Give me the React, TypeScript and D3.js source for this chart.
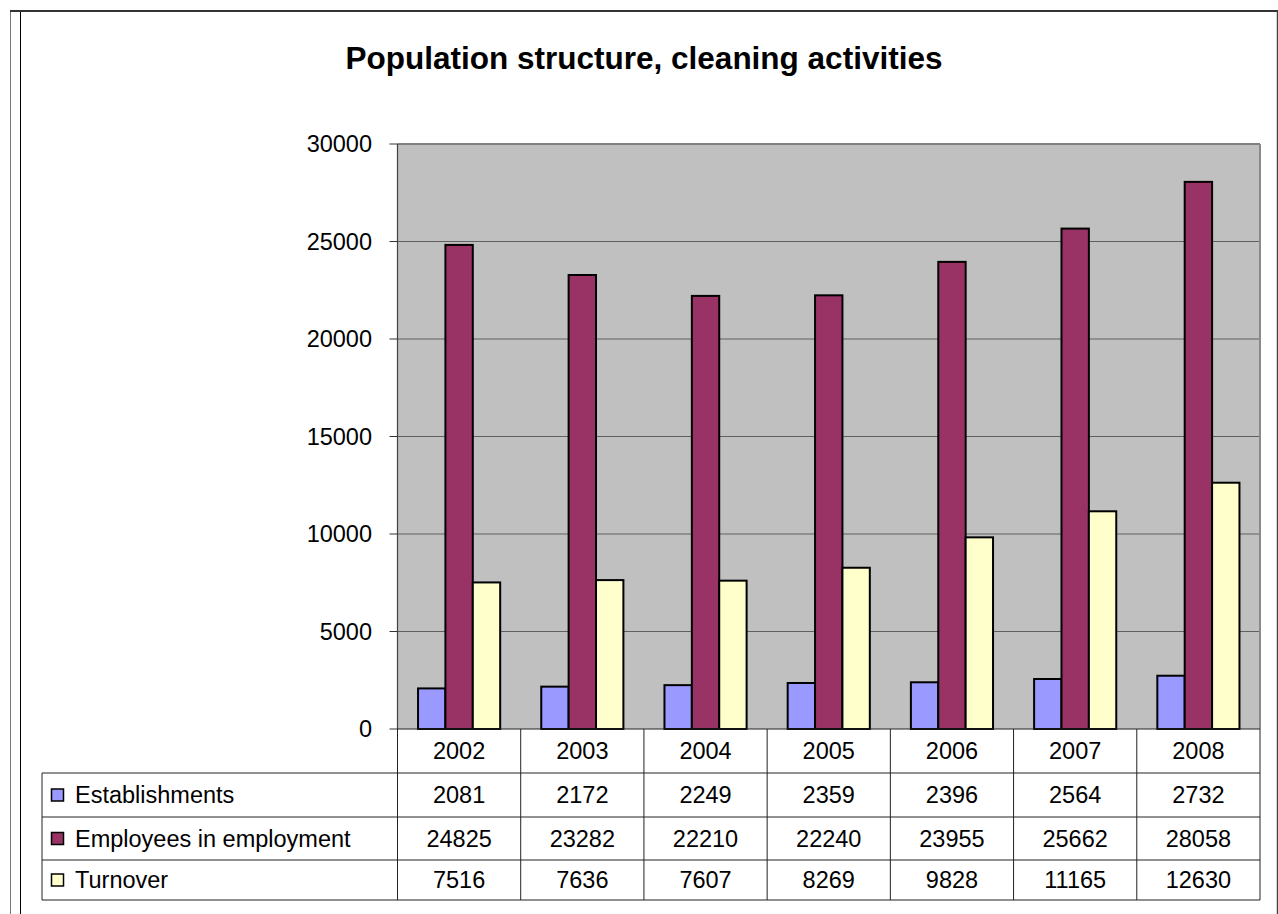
import React from "react";
import * as d3 from "d3";

const years = ["2002", "2003", "2004", "2005", "2006", "2007", "2008"];
const establishments = [2081, 2172, 2249, 2359, 2396, 2564, 2732];
const employees = [24825, 23282, 22210, 22240, 23955, 25662, 28058];
const turnover = [7516, 7636, 7607, 8269, 9828, 11165, 12630];
const seriesNames = ["Establishments", "Employees in employment", "Turnover"];
const seriesColors = ["#9999FF", "#993366", "#FFFFCC"];
const yTicks = [0, 5000, 10000, 15000, 20000, 25000, 30000];
const title = "Population structure, cleaning activities";

export default function App() {
  const W = 1278, H = 914;
  const plotL = 397.5, plotR = 1260, plotT = 144, plotB = 729;
  const tableL = 42;
  const rowLines = [729, 773, 817, 860, 900];
  const font = "Arial, 'Liberation Sans', sans-serif";
  const fs = 23.5;

  const series = [establishments, employees, turnover];
  const x = d3.scaleBand<string>().domain(years).range([plotL, plotR]).padding(0);
  const y = d3.scaleLinear().domain([0, 30000]).range([plotB, plotT]);
  const bw = x.bandwidth();
  const barW = bw / 4.5;
  const x1 = d3.scaleBand<number>().domain([0, 1, 2]).range([0.75 * barW, 0.75 * barW + 3 * barW]);

  return (
    <svg width={W} height={H} style={{ position: "fixed", left: 0, top: 0, background: "#fff" }} fontFamily={font}>
      <rect x={0} y={0} width={W} height={H} fill="#fff" />
      {/* outer frame */}
      <line x1={10.5} y1={11} x2={10.5} y2={H} stroke="#777" strokeWidth={1} />
      <line x1={20.5} y1={11} x2={20.5} y2={H} stroke="#000" strokeWidth={1} />
      <line x1={10} y1={11} x2={W} y2={11} stroke="#333" strokeWidth={2} />
      <line x1={1277.5} y1={11} x2={1277.5} y2={H} stroke="#444" strokeWidth={1.5} />

      <text x={644} y={69} textAnchor="middle" fontSize={31.5} fontWeight="bold">{title}</text>

      {/* plot area */}
      <rect x={plotL} y={plotT} width={plotR - plotL} height={plotB - plotT} fill="#C0C0C0" />
      {yTicks.filter(t => t > 0).map(t => (
        <line key={"g" + t} x1={plotL} x2={plotR} y1={y(t)} y2={y(t)} stroke={t === 30000 ? "#808080" : "#606060"} strokeWidth={t === 30000 ? 2 : 1} />
      ))}
      <line x1={plotR} x2={plotR} y1={plotT} y2={plotB} stroke="#8a8a8a" strokeWidth={2} />
      <line x1={plotL} x2={plotL} y1={plotT} y2={plotB} stroke="#404040" strokeWidth={1.2} />
      {yTicks.map(t => (
        <g key={"t" + t}>
          <line x1={plotL - 8} x2={plotL} y1={y(t)} y2={y(t)} stroke="#333" strokeWidth={1} />
          <text x={372} y={y(t)} dy="0.35em" textAnchor="end" fontSize={fs}>{t}</text>
        </g>
      ))}

      {/* bars */}
      {years.map((yr, i) => (
        <g key={yr}>
          {series.map((s, k) => (
            <rect key={k} x={(x(yr) as number) + (x1(k) as number)} y={y(s[i])} width={x1.bandwidth()} height={plotB - y(s[i])}
              fill={seriesColors[k]} stroke="#000" strokeWidth={2} />
          ))}
        </g>
      ))}

      {/* data table */}
      <line x1={plotL} x2={plotR} y1={plotB} y2={plotB} stroke="#222" strokeWidth={1.2} />
      {rowLines.slice(1).map((ry, i) => (
        <line key={"r" + i} x1={tableL} x2={plotR} y1={ry} y2={ry} stroke="#222" strokeWidth={1} />
      ))}
      <line x1={tableL} x2={tableL} y1={rowLines[1]} y2={rowLines[4]} stroke="#222" strokeWidth={1} />
      {[...years.map(yr => x(yr) as number), plotR].map((cx, i) => (
        <line key={"c" + i} x1={cx} x2={cx} y1={plotB} y2={rowLines[4]} stroke="#222" strokeWidth={1} />
      ))}
      {years.map(yr => (
        <text key={"h" + yr} x={(x(yr) as number) + bw / 2} y={(rowLines[0] + rowLines[1]) / 2} dy="0.35em" textAnchor="middle" fontSize={fs}>{yr}</text>
      ))}
      {series.map((s, k) => {
        const cy = (rowLines[k + 1] + rowLines[k + 2]) / 2;
        return (
          <g key={"row" + k}>
            <rect x={51.5} y={cy - 6} width={12} height={12} fill={seriesColors[k]} stroke="#000" strokeWidth={1.5} />
            <text x={75} y={cy} dy="0.35em" fontSize={fs}>{seriesNames[k]}</text>
            {s.map((v, i) => (
              <text key={i} x={(x(years[i]) as number) + bw / 2} y={cy} dy="0.35em" textAnchor="middle" fontSize={fs}>{v}</text>
            ))}
          </g>
        );
      })}
    </svg>
  );
}
